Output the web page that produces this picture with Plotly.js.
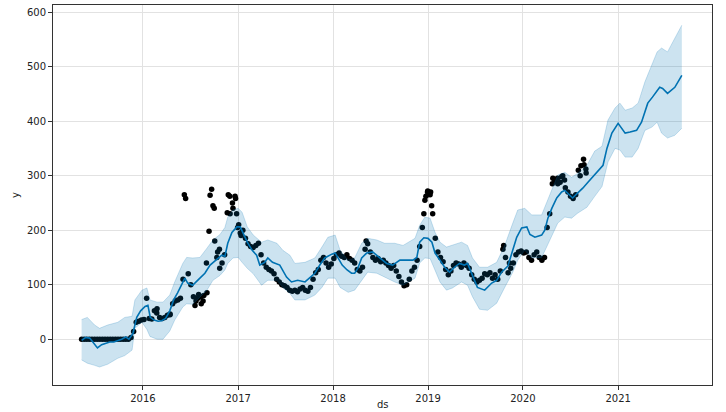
<!DOCTYPE html>
<html>
<head>
<meta charset="utf-8">
<script src="https://cdn.plot.ly/plotly-3.0.1.min.js"></script>
<style>
  html, body { margin: 0; padding: 0; background: #fff; }
  #forecast { width: 726px; height: 412px; }
</style>
</head>
<body>
<div id="forecast"></div>
<script>
// observed y, one reading every 10 days starting 2015-05-10
var obsStart = '2015-05-10';
var obsStepDays = 10;
var obsY = [
  0, 0, 0, 0, 0, 0, 0, 0, 0, 0, 0, 0, 0, 0, 0, 0, 0, 0, 0,
  3, 14, 31, 33, 35,
  36, 75, 38, 37, 52, 56, 40, 38, 40, 44, 46, 65, 70, 72,
  75, 110, 258, 120, 100, 78, 70, 82, 65, 80, 140, 198, 275, 240, 150, 165, 140, 155, 232, 262, 250, 262,
  205, 195, 200, 185, 175, 170, 168, 172, 176, 155, 140, 132, 128, 125, 120, 110, 105, 100, 98, 95,
  90, 88, 90, 87, 92, 95, 90, 88, 95, 110, 122, 128, 145, 150, 140, 132, 138, 148, 155, 158,
  152, 150, 155, 148, 145, 140, 128, 125, 132, 165, 175, 160, 150, 145, 148, 142, 145, 140, 135, 130,
  135, 125, 115, 105, 98, 100, 110, 125, 132, 145, 170, 205, 255, 270, 265, 230, 185, 160, 150, 142,
  128, 118, 125, 135, 140, 138, 132, 140, 135, 130, 118, 110, 105, 108, 112, 120, 118, 122, 112, 118,
  110, 125, 165, 150, 122, 130, 140, 155, 160, 162, 158, 160, 150, 145, 155, 160, 150, 145, 150, 205,
  230, 285, 290, 295, 288, 300, 278, 270, 262, 258, 265, 310, 318, 330, 305
];

// extra scattered observations in the noisy stretches
var extraDs = [
  '2016-02-23', '2016-04-14', '2016-06-08', '2016-07-19', '2016-07-30', '2016-08-11', '2016-08-19',
  '2016-09-03', '2016-09-15', '2016-09-26', '2016-10-03', '2016-10-14', '2016-10-22', '2016-11-24',
  '2016-12-01', '2016-12-12', '2016-12-22', '2016-12-26', '2017-01-03', '2017-01-12', '2018-05-08',
  '2018-12-16', '2018-12-24', '2018-12-31', '2019-01-11', '2019-01-15', '2019-10-19', '2019-11-10',
  '2020-04-25', '2020-05-14', '2020-05-29', '2020-06-09', '2020-08-08', '2020-08-23', '2020-08-30'
];
var extraY = [
  48, 45, 265, 62, 75, 78, 70,
  85, 264, 245, 180, 160, 130, 265,
  230, 240, 258, 230, 210, 190, 180,
  230, 262, 272, 270, 245, 172, 140,
  295, 285, 298, 292, 300, 320, 312
];

// forecast line
var fcstDs = [
  '2015-05-10', '2015-05-25', '2015-06-10', '2015-06-25', '2015-07-10', '2015-07-26', '2015-08-11', '2015-08-26',
  '2015-09-11', '2015-09-26', '2015-10-11', '2015-10-27', '2015-11-08', '2015-11-23', '2015-12-08', '2015-12-23',
  '2016-01-09', '2016-01-20', '2016-01-29', '2016-02-13', '2016-02-28', '2016-03-13', '2016-03-28', '2016-04-13',
  '2016-04-28', '2016-05-13', '2016-05-28', '2016-06-10', '2016-06-21', '2016-07-10', '2016-07-29', '2016-08-26',
  '2016-09-15', '2016-10-11', '2016-10-30', '2016-11-11', '2016-11-22', '2016-12-08', '2016-12-27', '2017-01-09',
  '2017-01-20', '2017-02-05', '2017-02-24', '2017-03-13', '2017-03-25', '2017-04-13', '2017-04-25', '2017-05-13',
  '2017-06-10', '2017-07-06', '2017-07-25', '2017-08-18', '2017-09-15', '2017-10-03', '2017-10-23', '2017-11-11',
  '2017-11-30', '2017-12-27', '2018-01-09', '2018-01-20', '2018-02-05', '2018-02-24', '2018-03-13', '2018-03-25',
  '2018-04-06', '2018-04-21', '2018-05-10', '2018-06-02', '2018-06-29', '2018-07-26', '2018-08-18', '2018-09-15',
  '2018-10-11', '2018-11-04', '2018-11-19', '2018-11-30', '2018-12-16', '2019-01-01', '2019-01-16', '2019-01-28',
  '2019-02-16', '2019-03-06', '2019-03-25', '2019-04-13', '2019-05-02', '2019-05-21', '2019-06-02', '2019-06-21',
  '2019-07-10', '2019-08-07', '2019-09-03', '2019-09-22', '2019-10-11', '2019-11-04', '2019-11-23', '2019-12-08',
  '2019-12-27', '2020-01-16', '2020-01-28', '2020-02-16', '2020-03-13', '2020-03-25', '2020-04-06', '2020-04-21',
  '2020-05-10', '2020-05-29', '2020-06-10', '2020-06-29', '2020-07-10', '2020-07-29', '2020-08-18', '2020-09-07',
  '2020-10-03', '2020-11-04', '2020-11-19', '2020-12-08', '2021-01-01', '2021-01-16', '2021-01-28', '2021-02-16',
  '2021-03-13', '2021-04-01', '2021-04-25', '2021-05-13', '2021-06-10', '2021-06-21', '2021-07-10', '2021-08-07',
  '2021-09-03'
];
var yhat = [
  -2, 3, 2, -8, -16, -10, -8, -5,
  -5, -3, 0, 4, 0, 10, 40, 52,
  60, 62, 40, 35, 33, 34, 38, 52,
  72, 85, 98, 112, 103, 99, 108, 121,
  136, 147, 154, 152, 176, 196, 206, 206,
  194, 178, 163, 154, 136, 141, 149, 141,
  136, 114, 105, 108, 105, 112, 121, 136,
  149, 156, 158, 149, 136, 127, 121, 121,
  130, 149, 158, 160, 149, 139, 136, 145,
  145, 145, 150, 178, 186, 185, 178, 158,
  145, 132, 123, 132, 139, 136, 139, 117,
  95, 90, 103, 108, 123, 134, 163, 187,
  204, 206, 192, 187, 191, 200, 222, 240,
  259, 270, 273, 264, 259, 268, 277, 288,
  302, 319, 350, 378, 396, 387, 378, 380,
  383, 398, 433, 444, 462, 460, 451, 462,
  484
];

// uncertainty interval
var bandDs = [
  '2015-05-10', '2015-06-01', '2015-06-29', '2015-07-18', '2015-08-18', '2015-09-26', '2015-10-23', '2015-11-20',
  '2015-12-01', '2015-12-28', '2016-01-16', '2016-01-28', '2016-02-24', '2016-03-18', '2016-04-13', '2016-05-02',
  '2016-06-02', '2016-06-17', '2016-07-10', '2016-08-07', '2016-09-03', '2016-09-26', '2016-10-23', '2016-11-11',
  '2016-11-22', '2016-12-12', '2017-01-01', '2017-01-16', '2017-02-05', '2017-02-28', '2017-04-01', '2017-04-25',
  '2017-05-30', '2017-06-22', '2017-07-19', '2017-08-07', '2017-09-15', '2017-10-23', '2017-11-19', '2017-12-12',
  '2018-01-09', '2018-01-28', '2018-02-28', '2018-03-25', '2018-04-21', '2018-05-14', '2018-06-18', '2018-07-18',
  '2018-08-26', '2018-09-27', '2018-11-12', '2018-11-30', '2018-12-20', '2019-01-09', '2019-01-28', '2019-02-16',
  '2019-03-13', '2019-04-05', '2019-05-10', '2019-06-02', '2019-06-21', '2019-07-18', '2019-08-18', '2019-09-22',
  '2019-10-23', '2019-11-23', '2019-12-12', '2020-01-08', '2020-02-04', '2020-03-13', '2020-04-01', '2020-04-21',
  '2020-05-14', '2020-06-10', '2020-07-06', '2020-07-29', '2020-09-03', '2020-10-03', '2020-10-31', '2020-11-23',
  '2020-12-20', '2021-01-08', '2021-01-28', '2021-02-24', '2021-03-19', '2021-04-14', '2021-05-11', '2021-05-31',
  '2021-06-17', '2021-07-10', '2021-08-07', '2021-09-03'
];
var yhatUpper = [
  36, 40, 26, 20, 26, 31, 40, 42,
  72, 90, 94, 72, 68, 68, 81, 105,
  139, 150, 149, 150, 167, 182, 192, 205,
  224, 237, 240, 233, 206, 191, 178, 182,
  176, 163, 154, 139, 141, 149, 169, 187,
  191, 163, 145, 149, 176, 185, 182, 176,
  176, 172, 185, 209, 224, 222, 196, 178,
  169, 172, 178, 172, 149, 132, 132, 141,
  172, 213, 237, 240, 228, 228, 250, 273,
  301, 306, 297, 304, 319, 345, 354, 402,
  424, 433, 420, 424, 433, 472, 503, 527,
  534, 527, 552, 576
];
var yhatLower = [
  -38, -44, -48, -51, -46, -35, -30, -20,
  20, 31, 18, 5, 0, 0, 15, 35,
  59, 65, 64, 77, 90, 108, 117, 127,
  139, 149, 150, 141, 130, 120, 99, 108,
  108, 95, 84, 72, 72, 81, 95, 112,
  112, 95, 86, 90, 108, 123, 121, 114,
  105, 99, 112, 140, 149, 148, 125, 105,
  90, 94, 105, 99, 78, 55, 53, 66,
  95, 123, 145, 163, 149, 150, 169, 190,
  213, 224, 222, 231, 242, 262, 280, 325,
  350, 347, 334, 334, 350, 383, 389, 398,
  378, 369, 374, 387
];

var obsDs = [];
var t0 = Date.parse(obsStart + 'T00:00:00Z');
for (var i = 0; i < obsY.length; i++) {
  obsDs.push(new Date(t0 + i * obsStepDays * 86400000).toISOString().slice(0, 10));
}
var dotsX = obsDs.concat(extraDs);
var dotsY = obsY.concat(extraY);

var blue = '#0072B2';
var bandColor = 'rgba(0,114,178,0.2)';

var data = [
  {x: dotsX, y: dotsY, type: 'scatter', mode: 'markers',
   marker: {color: '#000', size: 5.5}, hoverinfo: 'x+y'},
  {x: fcstDs, y: yhat, type: 'scatter', mode: 'lines',
   line: {color: blue, width: 1.6}},
  {x: bandDs, y: yhatLower, type: 'scatter', mode: 'lines',
   line: {color: bandColor, width: 1}},
  {x: bandDs, y: yhatUpper, type: 'scatter', mode: 'lines',
   line: {color: bandColor, width: 1}, fill: 'tonexty', fillcolor: bandColor}
];

var axisFont = {family: 'DejaVu Sans', size: 10, color: '#222'};

var layout = {
  width: 726,
  height: 412,
  margin: {l: 53, r: 14, t: 5, b: 27},
  paper_bgcolor: '#fff',
  plot_bgcolor: '#fff',
  showlegend: false,
  font: axisFont,
  xaxis: {
    type: 'date',
    range: ['2015-01-20', '2021-12-28'],
    tick0: '2016-01-01',
    dtick: 'M12',
    tickformat: '%Y',
    ticks: 'outside',
    ticklen: 4,
    tickcolor: '#333',
    tickfont: axisFont,
    showgrid: true,
    gridcolor: '#e2e2e2',
    zeroline: false,
    showline: true,
    mirror: true,
    linecolor: '#333',
    linewidth: 1
  },
  yaxis: {
    range: [-84, 613],
    dtick: 100,
    ticks: 'outside',
    ticklen: 4,
    tickcolor: '#333',
    tickfont: axisFont,
    showgrid: true,
    gridcolor: '#e2e2e2',
    zeroline: false,
    showline: true,
    mirror: true,
    linecolor: '#333',
    linewidth: 1,
    title: {text: 'y', font: axisFont, standoff: 5}
  },
  // x label placed low under the tick labels, as in the original
  annotations: [{
    text: 'ds', xref: 'paper', yref: 'paper', x: 0.5, y: -0.07,
    xanchor: 'center', yanchor: 'bottom', showarrow: false, font: axisFont
  }]
};

Plotly.newPlot('forecast', data, layout, {displayModeBar: false, staticPlot: true});
</script>
</body>
</html>
